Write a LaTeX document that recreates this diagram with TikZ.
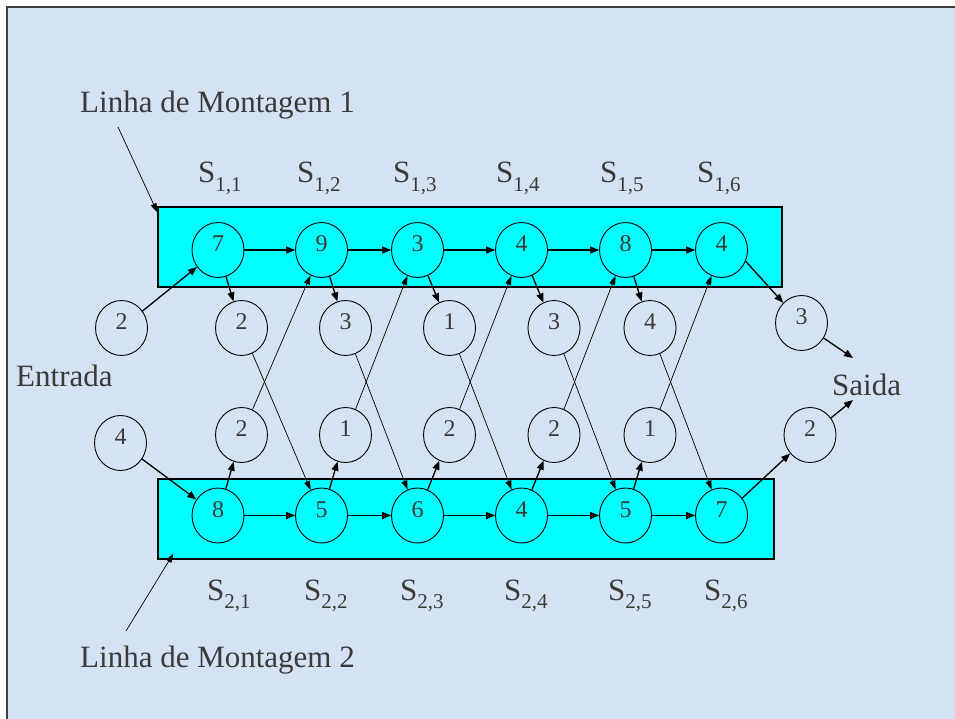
\documentclass[tikz,border=0pt]{standalone}
\usepackage{fontspec}
\setmainfont{Liberation Serif}
\usepackage{xcolor}
\usetikzlibrary{arrows.meta,positioning,shapes.geometric}

\definecolor{bgblue}{RGB}{212,226,243}
\definecolor{aqua}{RGB}{0,255,255}
\definecolor{txtgray}{RGB}{58,58,58}
\definecolor{framegray}{RGB}{60,62,68}

\newcommand{\stlabel}[1]{S\raisebox{-8.5pt}{\fontsize{21}{21}\selectfont #1}}

\begin{document}
\begin{tikzpicture}[
    x=1pt, y=-1pt,
    station/.style={ellipse, draw, line width=0.9pt, fill=aqua,
                    minimum width=52pt, minimum height=55pt, inner sep=0pt,
                    text=txtgray, text depth=12pt,
                    font=\fontsize{24}{24}\selectfont},
    cost/.style={station, fill=none},
    linebox/.style={draw, line width=1.2pt, fill=aqua,
                    minimum height=80pt, inner sep=0pt},
    lbl/.style={inner sep=0pt, anchor=base west, text=txtgray,
                font=\fontsize{31}{31}\selectfont},
    arr/.style={-{Triangle[length=9pt,width=7pt]}, line width=1.3pt},
    thinarr/.style={-{Triangle[length=9pt,width=6pt]}, line width=0.7pt}
]

% page, background and frame
\useasboundingbox (0,0) rectangle (955,719);
\fill[white] (0,0) rectangle (955,719);
\fill[bgblue] (7,7) rectangle (955,719);
\draw[framegray, line width=2.5pt] (7,719) -- (7,7) -- (955,7);

% the two assembly lines
\node[linebox, minimum width=624pt] (line1) at (470,247) {};
\node[linebox, minimum width=616pt] (line2) at (466,519) {};

% stations
\foreach \j/\x/\a/\b in {1/218/7/8, 2/321.5/9/5, 3/417.5/3/6,
                         4/521.5/4/4, 5/625.5/8/5, 6/721.5/4/7}{
    \node[station] (t\j) at (\x,250) {\a};
    \node[station] (b\j) at (\x,515.5) {\b};
}

% transfer costs
\foreach \j/\x/\a/\b in {1/241.5/2/2, 2/345.5/3/1, 3/449.5/1/2,
                         4/554/3/2, 5/650/4/1}{
    \node[cost] (u\j) at (\x,328) {\a};
    \node[cost] (d\j) at (\x,435) {\b};
}

% entry and exit costs
\node[cost] (e1) at (121.5,328) {2};
\node[cost] (e2) at (120.5,443) {4};
\node[cost] (x1) at (801.5,323) {3};
\node[cost] (x2) at (810,435) {2};

% station labels
\foreach \j/\x in {1/198,2/297,3/393,4/496,5/600,6/697}{
    \node[lbl] (s1\j) at (\x,183) {\stlabel{1,\j}};
}
\foreach \j/\x in {1/207,2/304,3/400,4/504,5/608,6/704}{
    \node[lbl] (s2\j) at (\x,600) {\stlabel{2,\j}};
}

% texts
\node[lbl] (lm1) at (80,113) {Linha de Montagem 1};
\node[lbl] (lm2) at (80,667) {Linha de Montagem 2};
\node[lbl] (entrada) at (16,386) {Entrada};
\node[lbl] (saida) at (832,395) {Saida};

\coordinate (p1) at (118,127);
\coordinate (p2) at (126,631);
\coordinate (o1) at (853,358);
\coordinate (o2) at (853,400);

% arrows
\draw[thinarr] (p1) -- ([yshift=-6pt]line1.north west);
\draw[thinarr] (p2) -- ([xshift=16pt,yshift=6pt]line2.south west);

\draw[arr] (e1) -- (t1);
\draw[arr] (e2) -- (b1);

\foreach \a/\b in {1/2,2/3,3/4,4/5,5/6}{
    \draw[arr] (t\a) -- (t\b);
    \draw[arr] (b\a) -- (b\b);
    \draw[arr] (t\a) -- (u\a);
    \draw[arr] (b\a) -- (d\a);
    \draw[thinarr] (u\a) -- (b\b);
    \draw[thinarr] (d\a) -- (t\b);
}

\draw[arr] (t6.-25) -- (x1);
\draw[arr] (b6.40) -- (x2);
\draw[arr] (x1) -- (o1);
\draw[arr] (x2) -- (o2);

\end{tikzpicture}
\end{document}
